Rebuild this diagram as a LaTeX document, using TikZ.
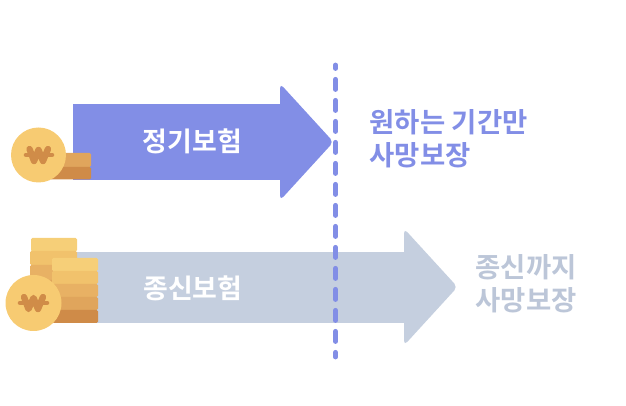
\documentclass[tikz,border=0pt]{standalone}
\usepackage{fontspec}
\newfontfamily\krfont{Noto Sans CJK KR}[BoldFont={Noto Sans CJK KR Bold}]
\usetikzlibrary{positioning}
\definecolor{termblue}{HTML}{828EE6}
\definecolor{wholegray}{HTML}{C5CFDF}
\definecolor{notegray}{HTML}{BCC6D8}
\definecolor{coinface}{HTML}{F7CB72}
\definecolor{coinmark}{HTML}{D08C48}
\definecolor{barA}{HTML}{F6CF78}
\definecolor{barB}{HTML}{F1C26C}
\definecolor{barC}{HTML}{E8B164}
\definecolor{barD}{HTML}{E0A55C}
\definecolor{barE}{HTML}{CF8B48}
\tikzset{
  arrowlabel/.style={text=white, font=\krfont\bfseries\fontsize{20.2}{24}\selectfont},
  sidelabel/.style={anchor=west, align=left, font=\krfont\bfseries\fontsize{20.6}{24.5}\selectfont},
  bigarrow/.style={rounded corners=3.5pt},
  coin/.style={circle, fill=coinface, minimum size=#1, inner sep=0pt},
  bar/.style={rounded corners=1pt},
  wonmark/.style={draw=coinmark, line width=4.8pt, line cap=round, line join=round},
}

\begin{document}
\begin{tikzpicture}[x=0.75pt, y=-0.75pt]
  \useasboundingbox (0,0) rectangle (626,406);

  % Lower arrow
  \fill[wholegray] (70,252) -- (404,252) -- (404,323) -- (70,323) -- cycle;
  \fill[wholegray, bigarrow] (404,300) -- (404,228.5) -- (457.5,287) -- (404,345.5) -- (404,280) -- cycle;

  % Upper arrow
  \fill[termblue] (73,104) -- (280,104) -- (280,180) -- (73,180) -- cycle;
  \fill[termblue, bigarrow] (280,150) -- (280,83.5) -- (333.5,142) -- (280,200.5) -- (280,130) -- cycle;

  % Divider
  \coordinate (divtop) at (335.5,65);
  \coordinate (divend) at (335.5,357);
  \draw[termblue, line width=3.6pt, line cap=round, dash pattern=on 7.6pt off 8.15pt, dash phase=5pt] (divtop) -- (divend);

  % Coins, upper stack
  \fill[barD, bar] (50,153) rectangle (91,167);
  \fill[barE, bar] (50,167) rectangle (91,179.5);
  \node[coin=41.25pt] (coinA) at (38.5,155) {};
  \draw[wonmark, line width=3.4pt] (26,155) -- (52,155);
  \draw[wonmark] (29.5,149) -- (34,161) -- (38.5,150) -- (43,161) -- (48,149);

  % Coins, lower stacks
  \fill[barA, bar] (31,238) rectangle (77,251.5);
  \fill[barB, bar] (30,251) rectangle (77,265);
  \fill[barC, bar] (30,265) rectangle (77,280);
  \fill[barD, bar] (30,280) rectangle (60,300);
  \fill[barA, bar] (52,258) rectangle (98,271);
  \fill[barB, bar] (52,271) rectangle (98,284);
  \fill[barC, bar] (52,284) rectangle (98,297);
  \fill[barD, bar] (52,297) rectangle (98,310);
  \fill[barE, bar] (52,310) rectangle (98,323);
  \node[coin=42pt] (coinB) at (33.5,303) {};
  \draw[wonmark, line width=3.4pt] (20,303) -- (47,303);
  \draw[wonmark] (24,297) -- (28.5,309) -- (33.5,298) -- (38,309) -- (43,297);

  % Labels
  \node[arrowlabel] (termname) at (192.5,141) {정기보험};
  \node[arrowlabel] (wholename) at (193,288) {종신보험};
  \node[sidelabel, text=termblue] (termnote) at (365,138.5) {원하는 기간만\\사망보장};
  \node[sidelabel, text=notegray] (wholenote) at (471,284) {종신까지\\사망보장};
\end{tikzpicture}
\end{document}
